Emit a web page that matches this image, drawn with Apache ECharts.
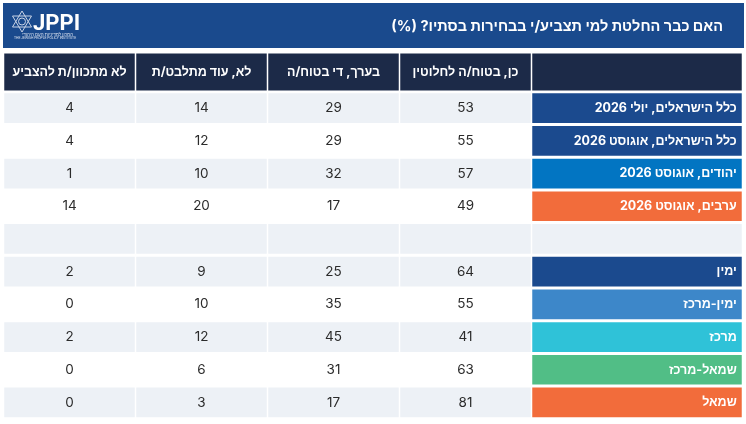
<!DOCTYPE html>
<html>
<head>
<meta charset="utf-8">
<script src="https://cdn.jsdelivr.net/npm/echarts@6/dist/echarts.min.js"></script>
<style>
html, body { margin: 0; padding: 0; background: #fff; }
#chart { width: 746px; height: 424px; direction: rtl; }
</style>
</head>
<body>
<div id="chart"></div>
<script>
// table content
var title = 'האם כבר החלטת למי תצביע/י בבחירות בסתיו? (%)';
var columns = ['לא מתכוון/ת להצביע', 'לא, עוד מתלבט/ת', 'בערך, די בטוח/ה', 'כן, בטוח/ה לחלוטין'];
var rowLabels = ['כלל הישראלים, יולי 2026', 'כלל הישראלים, אוגוסט 2026', 'יהודים, אוגוסט 2026', 'ערבים, אוגוסט 2026', ' ',
                 'ימין', 'ימין-מרכז', 'מרכז', 'שמאל-מרכז', 'שמאל'];
var notVoting  = [4, 4, 1, 14, null, 2, 0, 2, 0, 0];
var undecided  = [14, 12, 10, 20, null, 9, 10, 12, 6, 3];
var fairlySure = [29, 29, 32, 17, null, 25, 35, 45, 31, 17];
var verySure   = [53, 55, 57, 49, null, 64, 55, 41, 63, 81];

// styles
var labelColors = ['#1b4a8e', '#1b4a8e', '#0275c2', '#f26c3b', '#edf1f6', '#1b4a8e', '#3d87c9', '#2fc2d8', '#51be86', '#f26c3b'];
var stripe = [1, 0, 1, 0, 1, 1, 0, 1, 0, 1];
var headColor = '#1c2a48';
var bandColor = '#1a4a8d';
var hebFont = "Inter, 'Liberation Sans', sans-serif";

var valueCols = [notVoting, undecided, fairlySure, verySure];
var bodyData = [];
for (var r = 0; r < rowLabels.length; r++) {
    for (var c = 0; c < valueCols.length; c++) {
        var v = valueCols[c][r];
        bodyData.push([c, r, v == null ? '' : v]);
    }
}
var labelData = rowLabels.map(function (l, i) { return [0, i]; });
var headData = columns.map(function (l, i) { return [i, 0]; });

function cellRect(api, gx, gy) {
    var p = api.coord([api.value(0), api.value(1)]);
    var s = api.size([1, 1]);
    return { x: p[0] - s[0] / 2 + gx, y: p[1] - s[1] / 2 + gy, width: s[0] - 2 * gx, height: s[1] - 2 * gy };
}

function txt(x, y, text, color, size, weight, align) {
    return {
        type: 'text', x: x, y: y,
        style: {
            text: text, fill: color, fontSize: size, fontWeight: weight, fontFamily: hebFont,
            align: align, textAlign: align, verticalAlign: 'middle', textVerticalAlign: 'middle'
        }
    };
}

var chart = echarts.init(document.getElementById('chart'));
var option = {
    backgroundColor: '#fff',
    animation: false,
    grid: [
        { left: 3.5, top: 52, width: 528, height: 40 },
        { left: 531.5, top: 52, width: 211, height: 40 },
        { left: 3.5, top: 91.8, width: 528, height: 327 },
        { left: 531.5, top: 91.8, width: 211, height: 327 }
    ],
    xAxis: [
        { type: 'category', gridIndex: 0, data: columns, show: false },
        { type: 'category', gridIndex: 1, data: ['label'], show: false },
        { type: 'category', gridIndex: 2, data: columns, show: false },
        { type: 'category', gridIndex: 3, data: ['label'], show: false }
    ],
    yAxis: [
        { type: 'category', gridIndex: 0, data: ['head'], show: false },
        { type: 'category', gridIndex: 1, data: ['head'], show: false },
        { type: 'category', gridIndex: 2, data: rowLabels, inverse: true, show: false },
        { type: 'category', gridIndex: 3, data: rowLabels, inverse: true, show: false }
    ],
    graphic: [
        { type: 'rect', shape: { x: 3, y: 3, width: 741, height: 45 }, style: { fill: bandColor } },
        txt(723, 26.5, title, '#fff', 14.5, 'bold', 'right'),
        // logo
        { type: 'polygon', shape: { points: [[22, 11], [31.5, 27], [12.5, 27]] }, style: { fill: 'none', stroke: '#c8d3e6', lineWidth: 1 } },
        { type: 'polygon', shape: { points: [[22, 32], [31.5, 16], [12.5, 16]] }, style: { fill: 'none', stroke: '#c8d3e6', lineWidth: 1 } },
        { type: 'circle', shape: { cx: 22, cy: 21.5, r: 3.5 }, style: { fill: 'none', stroke: '#c8d3e6', lineWidth: 1 } },
        { type: 'text', x: 33, y: 24, style: { text: 'JPPI', fill: '#fff', fontSize: 22, fontWeight: 'bold', fontFamily: 'Roboto, sans-serif', align: 'left', verticalAlign: 'middle', textAlign: 'left', textVerticalAlign: 'middle' } },
        txt(73, 34.5, 'המכון למדיניות העם היהודי', '#dbe3f0', 4.5, 'normal', 'right'),
        { type: 'text', x: 14, y: 38.5, style: { text: 'THE JEWISH PEOPLE POLICY INSTITUTE', fill: '#dbe3f0', fontSize: 3.4, fontFamily: 'Roboto, sans-serif', align: 'left', verticalAlign: 'middle', textAlign: 'left', textVerticalAlign: 'middle' } }
    ],
    series: [
        {
            type: 'custom', xAxisIndex: 0, yAxisIndex: 0, data: headData,
            renderItem: function (params, api) {
                var r = cellRect(api, 0.75, 1.4);
                return { type: 'group', children: [
                    { type: 'rect', shape: r, style: { fill: headColor } },
                    txt(r.x + r.width / 2, r.y + r.height / 2, columns[api.value(0)], '#fff', 12.5, 'bold', 'center')
                ] };
            }
        },
        {
            type: 'custom', xAxisIndex: 1, yAxisIndex: 1, data: [[0, 0]],
            renderItem: function (params, api) {
                return { type: 'rect', shape: cellRect(api, 0.75, 1.4), style: { fill: headColor } };
            }
        },
        {
            type: 'custom', xAxisIndex: 2, yAxisIndex: 2, data: bodyData,
            renderItem: function (params, api) {
                var r = cellRect(api, 0.75, 1.5);
                var row = api.value(1);
                var v = api.value(2);
                return { type: 'group', children: [
                    { type: 'rect', shape: r, style: { fill: stripe[row] ? '#edf1f6' : '#fff' } },
                    txt(r.x + r.width / 2, r.y + r.height / 2, isNaN(v) ? '' : String(v), '#2b2b2b', 13.5, 'normal', 'center')
                ] };
            }
        },
        {
            type: 'custom', xAxisIndex: 3, yAxisIndex: 3, data: labelData,
            renderItem: function (params, api) {
                var r = cellRect(api, 0.75, 1.5);
                var row = api.value(1);
                return { type: 'group', children: [
                    { type: 'rect', shape: r, style: { fill: labelColors[row] } },
                    txt(r.x + r.width - 5, r.y + r.height / 2, rowLabels[row], '#fff', 12.5, 'bold', 'right')
                ] };
            }
        }
    ]
};
chart.setOption(option);
</script>
</body>
</html>
